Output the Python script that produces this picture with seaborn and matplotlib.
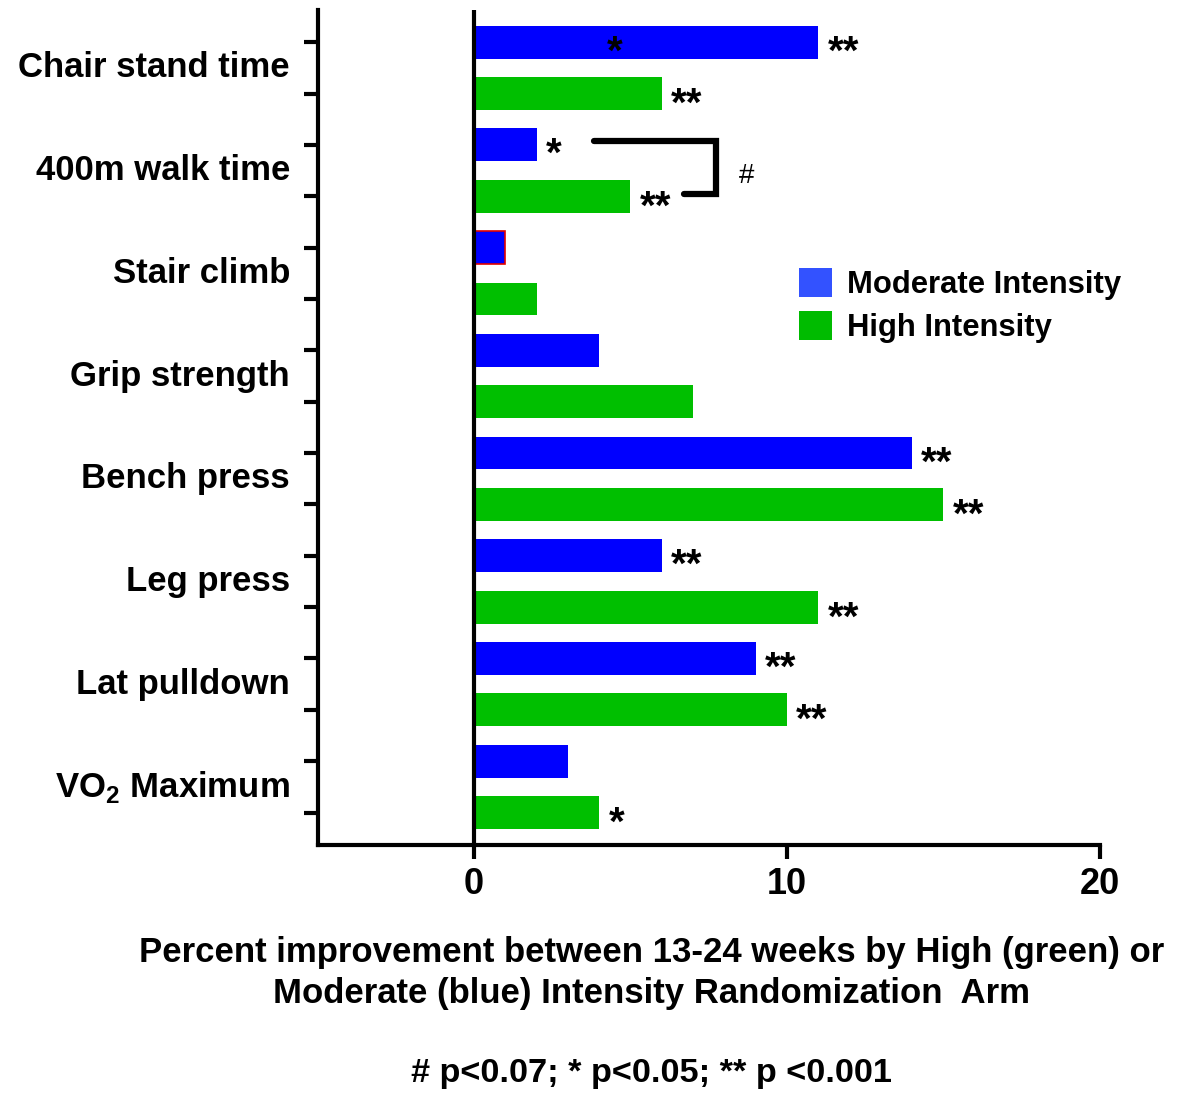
import matplotlib
matplotlib.use("Agg")
import matplotlib.pyplot as plt
from matplotlib.patches import Patch
import seaborn as sns
import pandas as pd

categories = ["Chair stand time", "400m walk time", "Stair climb", "Grip strength",
              "Bench press", "Leg press", "Lat pulldown", "VO$_\\mathbf{2}$ Maximum"]
moderate = [11, 2, 1, 4, 14, 6, 9, 3]
high = [6, 5, 2, 7, 15, 11, 10, 4]
moderate_sig = ["**", "*", "", "", "**", "**", "**", ""]
high_sig = ["**", "**", "", "", "**", "**", "**", "*"]
arms = ["Moderate Intensity", "High Intensity"]
bar_colors = {"Moderate Intensity": "#0000ff", "High Intensity": "#00bf00"}
legend_colors = ["#3352ff", "#00bb00"]

sns.set_style("white")
plt.rcParams["font.family"] = ["Liberation Sans", "DejaVu Sans"]
plt.rcParams["text.color"] = "black"
plt.rcParams["axes.labelcolor"] = "black"
plt.rcParams["xtick.color"] = "black"
plt.rcParams["ytick.color"] = "black"
plt.rcParams["mathtext.fontset"] = "custom"
plt.rcParams["mathtext.bf"] = "Liberation Sans:bold"
plt.rcParams["mathtext.rm"] = "Liberation Sans:bold"

rows = []
for i, cat in enumerate(categories):
    rows.append({"row": f"{i}a", "value": moderate[i], "arm": arms[0]})
    rows.append({"row": f"{i}b", "value": high[i], "arm": arms[1]})
df = pd.DataFrame(rows)

fig = plt.figure(figsize=(11.81, 10.93), dpi=100)
ax = fig.add_axes([0.269, 0.227, 0.662, 0.764])

sns.barplot(data=df, y="row", x="value", hue="arm", palette=bar_colors,
            dodge=False, width=0.64, orient="h", legend=False, ax=ax,
            saturation=1, edgecolor="none")

# red outline on the stair-climb moderate bar
for p in ax.patches:
    yc = p.get_y() + p.get_height() / 2
    if abs(yc - 4) < 0.1:
        p.set_edgecolor("#e00000")
        p.set_linewidth(1.2)

ax.set_xlim(-5, 20)
ax.set_ylim(15.63, -0.63)
ax.set_xticks([0, 10, 20])
ax.set_xticklabels(["0", "10", "20"], fontsize=26, fontweight="bold")
ax.set_yticks(range(16))
ax.set_yticklabels([""] * 16)
ax.set_xlabel("")
ax.set_ylabel("")
for s in ["top", "right"]:
    ax.spines[s].set_visible(False)
for s in ["left", "bottom"]:
    ax.spines[s].set_linewidth(3)
    ax.spines[s].set_color("black")
ax.tick_params(axis="y", direction="out", length=10, width=3, left=True)
ax.tick_params(axis="x", direction="out", length=10, width=3, bottom=True, pad=6)
ax.axvline(0, color="black", lw=3)

# category labels between their two bars
for i, cat in enumerate(categories):
    ax.annotate(cat, xy=(0, 2 * i + 0.5), xycoords=("axes fraction", "data"),
                xytext=(-20, 0), textcoords="offset points", ha="right", va="center",
                fontsize=25, fontweight="bold")

# significance marks
star_kw = dict(fontsize=29, fontweight="bold", va="center", ha="left")
for i in range(len(categories)):
    if moderate_sig[i]:
        ax.text(moderate[i] + 0.3, 2 * i + 0.2, moderate_sig[i], **star_kw)
    if high_sig[i]:
        ax.text(high[i] + 0.3, 2 * i + 1.22, high_sig[i], **star_kw)
ax.text(4.5, 0.2, "*", fontsize=29, fontweight="bold", va="center", ha="center")

# bracket between 400m walk bars
ax.plot([3.85, 7.75, 7.75, 6.7], [1.92, 1.92, 2.95, 2.95], color="black", lw=4.5,
        solid_capstyle="round", solid_joinstyle="miter")
ax.text(8.7, 2.6, "#", fontsize=20, va="center", ha="center")

handles = [Patch(facecolor=c, edgecolor="none") for c in legend_colors]
leg = ax.legend(handles, arms, loc="upper left", bbox_to_anchor=(0.58, 0.724),
                frameon=False, handlelength=1.05, handleheight=1.05, handletextpad=0.5,
                labelspacing=0.35, prop={"size": 22.3, "weight": "bold"})

fig.text(0.552, 0.110, "Percent improvement between 13-24 weeks by High (green) or\n"
         "Moderate (blue) Intensity Randomization  Arm", ha="center", va="center",
         fontsize=25, fontweight="bold", linespacing=1.32)
fig.text(0.552, 0.018, "# p<0.07; * p<0.05; ** p <0.001", ha="center", va="center",
         fontsize=24.7, fontweight="bold")

fig.savefig("out.png", dpi=100)
